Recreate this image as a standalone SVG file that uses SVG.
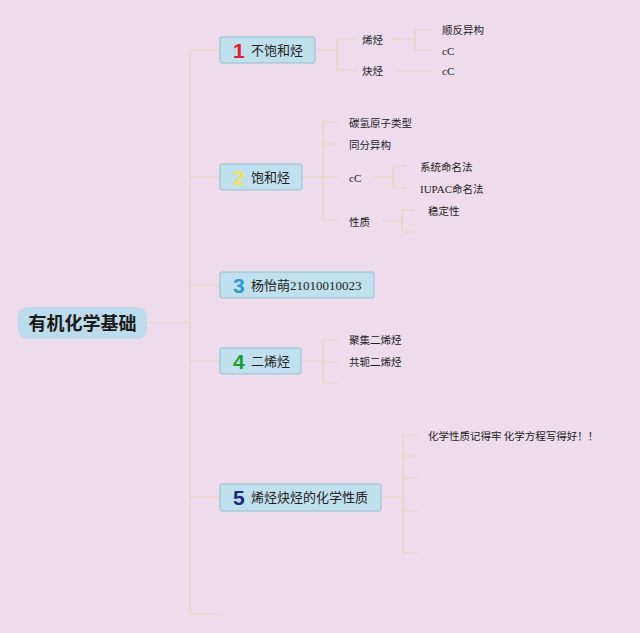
<svg xmlns="http://www.w3.org/2000/svg" width="640" height="633" viewBox="0 0 640 633">
<style>
.bg{fill:#eedcec}
.ln{fill:none;stroke:#e6d4bb;stroke-width:1.2}
.box{fill:#bfe0ec;stroke:#93bfd0;stroke-width:1}
.t{font-family:"Noto Sans CJK SC","Noto Sans",sans-serif;font-size:13px;fill:#222}
.num{font-family:"Liberation Serif",serif}
.n{font-family:"Liberation Sans","Noto Sans",sans-serif;font-size:21px;font-weight:bold}
.leaf{font-family:"Noto Sans CJK SC","Noto Sans",sans-serif;font-size:10.5px;fill:#222}
.lat{font-family:"Liberation Serif",serif;font-size:11px;fill:#222}
.root{font-family:"Noto Sans CJK SC",sans-serif;font-size:18px;font-weight:bold;fill:#1a1a1a}
</style>
<rect class="bg" x="0" y="0" width="640" height="633"/>
<g id="connectors">
<path class="ln" d="M147,323H190M190,50V614M190,50H220M190,177H220M190,285H220M190,361H220M190,497H220M190,614H220"/>
<path class="ln" d="M315,50H337M337,39V70M337,39H357M337,70H357M393,39H415M415,30V50M415,30H432M415,50H432M395,71H432"/>
<path class="ln" d="M302,177H323M323,122V220M323,122H337M323,144H337M323,177H337M323,220H337M373,177H393M393,166V188M393,166H407M393,188H407M382,221H402M402,210V232M402,210H415M402,232H415"/>
<path class="ln" d="M301,361H323M323,340V383M323,340H337M323,362H337M323,383H337"/>
<path class="ln" d="M381,497H403M403,435V553M403,435H417M403,456H417M403,478H417M403,511H417M403,553H417"/>
</g>
<g id="root">
<rect x="18" y="307" width="129" height="32" rx="9" fill="#bcdcec"/>
<text class="root" x="82.5" y="329.5" text-anchor="middle">有机化学基础</text>
</g>
<g id="n1">
<rect class="box" x="220" y="37" width="95" height="26" rx="2"/>
<text class="n" x="233" y="58" fill="#e0212e">1</text>
<text class="t" x="251" y="55">不饱和烃</text>
</g>
<g id="n1a"><text class="leaf" x="362" y="44">烯烃</text></g>
<g id="n1b"><text class="leaf" x="362" y="75">炔烃</text></g>
<g id="n1a1"><text class="leaf" x="442" y="34">顺反异构</text></g>
<g id="n1a2"><text class="lat" x="442" y="55">cC</text></g>
<g id="n1b1"><text class="lat" x="442" y="75">cC</text></g>
<g id="n2">
<rect class="box" x="220" y="164" width="82" height="26" rx="2"/>
<text class="n" x="233" y="185" fill="#f3e25a">2</text>
<text class="t" x="251" y="182">饱和烃</text>
</g>
<g id="n2a"><text class="leaf" x="349" y="127">碳氢原子类型</text></g>
<g id="n2b"><text class="leaf" x="349" y="149">同分异构</text></g>
<g id="n2c"><text class="lat" x="349" y="182">cC</text></g>
<g id="n2d"><text class="leaf" x="349" y="226">性质</text></g>
<g id="n2c1"><text class="leaf" x="420" y="171">系统命名法</text></g>
<g id="n2c2"><text class="leaf" x="420" y="193"><tspan class="lat">IUPAC</tspan>命名法</text></g>
<g id="n2d1"><text class="leaf" x="428" y="215">稳定性</text></g>
<g id="n3">
<rect class="box" x="220" y="272" width="154" height="26" rx="2"/>
<text class="n" x="233" y="293" fill="#2b9ad8">3</text>
<text class="t" x="251" y="290">杨怡萌<tspan class="num">21010010023</tspan></text>
</g>
<g id="n4">
<rect class="box" x="220" y="348" width="81" height="26" rx="2"/>
<text class="n" x="233" y="369" fill="#1e9e32">4</text>
<text class="t" x="251" y="366">二烯烃</text>
</g>
<g id="n4a"><text class="leaf" x="349" y="344">聚集二烯烃</text></g>
<g id="n4b"><text class="leaf" x="349" y="366">共轭二烯烃</text></g>
<g id="n5">
<rect class="box" x="220" y="484" width="161" height="27" rx="2"/>
<text class="n" x="233" y="505" fill="#1b2a7e">5</text>
<text class="t" x="251" y="502">烯烃炔烃的化学性质</text>
</g>
<g id="n5a"><text class="leaf" x="428" y="440">化学性质记得牢 化学方程写得好！！</text></g>
</svg>
